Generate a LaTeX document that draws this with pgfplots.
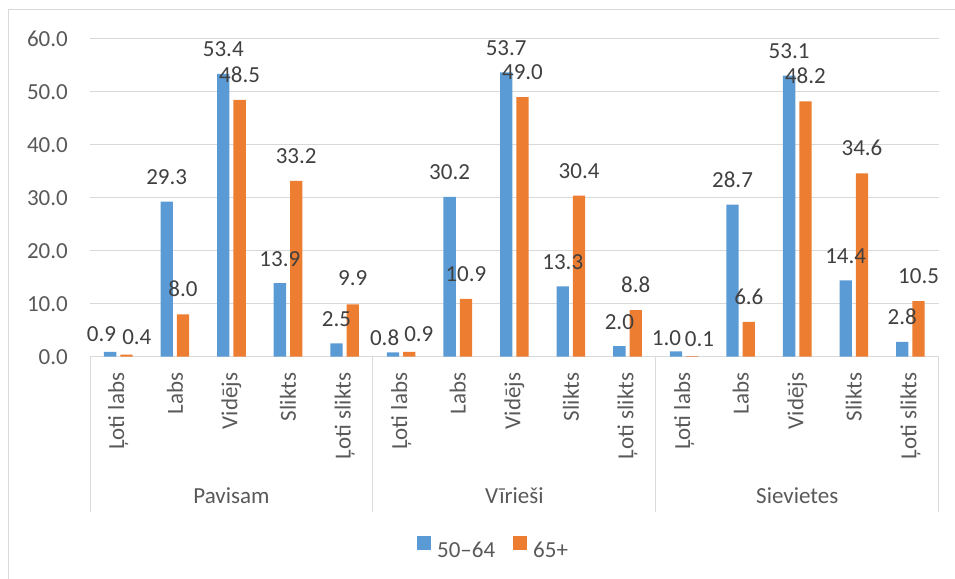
\documentclass[border=0pt]{standalone}
\usepackage{pgfplots}
\pgfplotsset{compat=1.18}
\usepackage{pgfplotstable}
\usepackage{fontspec}
\setmainfont{Carlito}
\definecolor{cblue}{HTML}{5B9BD5}
\definecolor{corange}{HTML}{ED7D31}
\definecolor{cgrid}{HTML}{D9D9D9}
\definecolor{ctick}{HTML}{595959}
\definecolor{clabel}{HTML}{404040}
% x value dx dy (label offsets in bp)
\pgfplotstableread{
x  y     dx    dy
0  0.9   -8.6  10.6
1  29.3  0     17
2  53.4  0     17
3  13.9  0     17
4  2.5   0     17
5  0.8   -8.4  6.6
6  30.2  0     17
7  53.7  0     17
8  13.3  0     17
9  2.0   0     17
10 1.0   -9.5  5.7
11 28.7  0     17
12 53.1  0     17
13 14.4  0     17
14 2.8   0     17
}\tblA
\pgfplotstableread{
x  y     dx    dy
0  0.4   10.4  10
1  8.0   0     17.5
2  48.5  0     17.5
3  33.2  0     17.5
4  9.9   0     19
5  0.9   9.5   10.6
6  10.9  0     17.5
7  49.0  0     17.5
8  30.4  0     17.5
9  8.8   0     17.5
10 0.1   7.2   10
11 6.6   0     17.5
12 48.2  0     17.5
13 34.6  0     17.5
14 10.5  0     17.5
}\tblB
\begin{document}
\begin{tikzpicture}[font=\fontsize{23bp}{27bp}\selectfont]
\useasboundingbox (0,0) rectangle (955bp,579bp);
\draw[cgrid, line width=1bp] (8.5bp,0) -- (8.5bp,569.5bp) -- (955bp,569.5bp);
\begin{axis}[
  at={(90bp,222.3bp)}, anchor=south west,
  scale only axis, width=848.7bp, height=317.7bp,
  xmin=-0.5, xmax=14.5, ymin=0, ymax=60,
  ytick={0,10,...,60},
  xtick={0,...,14},
  xticklabels={Ļoti labs,Labs,Vidējs,Slikts,Ļoti slikts,Ļoti labs,Labs,Vidējs,Slikts,Ļoti slikts,Ļoti labs,Labs,Vidējs,Slikts,Ļoti slikts},
  major tick length=0pt,
  axis line style={draw=none},
  ymajorgrids, grid style={cgrid, line width=1bp},
  /pgf/number format/assume math mode=true,
  yticklabel style={/pgf/number format/.cd, fixed, fixed zerofill, precision=1, /tikz/.cd, anchor=east, inner sep=0pt, text=ctick},
  yticklabel shift=22bp,
  xticklabel style={rotate=90, anchor=east, inner sep=0pt, text=ctick},
  xticklabel shift=16bp,
  ybar=4bp, bar width=12.3bp,
  clip=false,
  nodes near coords={\pgfmathprintnumber[fixed,fixed zerofill,precision=1,assume math mode=true]{\pgfplotspointmeta}},
  legend image code/.code={\fill[#1,draw=none] (0bp,0.5bp) rectangle (14bp,14.5bp);},
  legend style={at={(0.4743,-0.601)}, anchor=center, draw=none, fill=none, inner sep=0pt,
    legend columns=-1, nodes={inner sep=0pt, text=ctick},
    /tikz/every odd column/.append style={column sep=6bp},
    /tikz/every even column/.append style={column sep=18bp}},
]
\addplot[fill=cblue, draw=none,
  visualization depends on={\thisrow{dx} \as \labdx},
  visualization depends on={\thisrow{dy} \as \labdy},
  nodes near coords style={anchor=base, inner sep=0pt, xshift=\labdx bp, yshift=\labdy bp, text=clabel}]
  table[x=x, y=y] {\tblA};
\addplot[fill=corange, draw=none,
  visualization depends on={\thisrow{dx} \as \labdx},
  visualization depends on={\thisrow{dy} \as \labdy},
  nodes near coords style={anchor=base, inner sep=0pt, xshift=\labdx bp, yshift=\labdy bp, text=clabel}]
  table[x=x, y=y] {\tblB};
\legend{50–64,65+}
\end{axis}
\foreach \x in {90,372.9,655.8,938.7} {
  \draw[cgrid, line width=1bp] (\x bp,222.3bp) -- (\x bp,67.3bp);
}
\node[anchor=base, text=ctick, inner sep=0pt] at (231.45bp,75.5bp) {Pavisam};
\node[anchor=base, text=ctick, inner sep=0pt] at (514.35bp,75.5bp) {Vīrieši};
\node[anchor=base, text=ctick, inner sep=0pt] at (797.25bp,75.5bp) {Sievietes};
\end{tikzpicture}
\end{document}
